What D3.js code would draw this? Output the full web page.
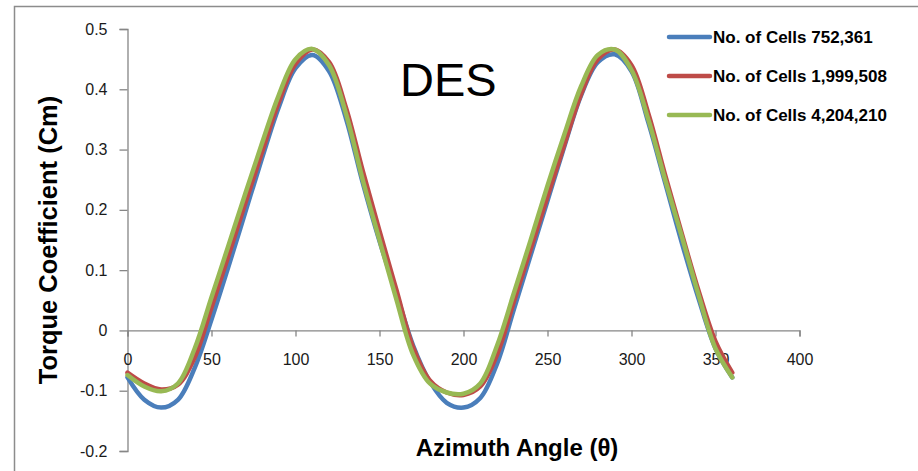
<!DOCTYPE html>
<html>
<head>
<meta charset="utf-8">
<script src="https://cdn.jsdelivr.net/npm/d3@7"></script>
<style>
    body { margin: 0; background: #fff; }
    svg { display: block; font-family: "Liberation Sans", Arial, sans-serif; }
    .tick-label { font-size: 16px; fill: #1a1a1a; }
    .axis-title { font-weight: bold; fill: #000; }
    .legend-label { font-size: 17px; font-weight: bold; fill: #000; }
</style>
</head>
<body>
<svg id="chart"></svg>
<script>
// Data
const angles = [0, 10, 20, 30, 40, 50, 60, 70, 80, 90, 100, 110, 120, 130, 140, 150, 160, 170, 180,
    190, 200, 210, 220, 230, 240, 250, 260, 270, 280, 290, 300, 310, 320, 330, 340, 350, 360];

const cells752k = [-0.078, -0.115, -0.128, -0.115, -0.062, 0.018, 0.105, 0.195, 0.285, 0.370, 0.435, 0.457,
    0.430, 0.352, 0.245, 0.148, 0.062, -0.025, -0.085, -0.120, -0.128, -0.112, -0.055, 0.035, 0.125,
    0.215, 0.305, 0.390, 0.445, 0.458, 0.430, 0.345, 0.245, 0.145, 0.052, -0.030, -0.078];

const cells1999k = [-0.070, -0.088, -0.098, -0.090, -0.045, 0.038, 0.123, 0.210, 0.295, 0.378, 0.442, 0.466,
    0.445, 0.370, 0.265, 0.165, 0.068, -0.028, -0.083, -0.103, -0.107, -0.093, -0.040, 0.048, 0.135,
    0.222, 0.308, 0.392, 0.450, 0.466, 0.440, 0.360, 0.258, 0.160, 0.065, -0.018, -0.070];

const cells4204k = [-0.074, -0.093, -0.101, -0.088, -0.030, 0.055, 0.140, 0.226, 0.310, 0.390, 0.450, 0.467,
    0.440, 0.360, 0.250, 0.150, 0.052, -0.040, -0.088, -0.103, -0.105, -0.088, -0.025, 0.062, 0.150,
    0.240, 0.325, 0.405, 0.457, 0.466, 0.432, 0.350, 0.250, 0.155, 0.058, -0.030, -0.078];

const seriesNames = ['No. of Cells 752,361', 'No. of Cells 1,999,508', 'No. of Cells 4,204,210'];
const seriesColors = ['#4a7ebb', '#be4b48', '#98b954'];
const xTicks = [0, 50, 100, 150, 200, 250, 300, 350, 400];
const yTicks = [-0.2, -0.1, 0, 0.1, 0.2, 0.3, 0.4, 0.5];
const yTickLabels = ['-0.2', '-0.1', '0', '0.1', '0.2', '0.3', '0.4', '0.5'];

// Layout
const config = {
    width: 918,
    height: 471,
    plot: { left: 127.5, right: 799.5, top: 29, bottom: 451 },
    axisColor: '#868686',
    lineWidth: 4.5
};

const svg = d3.select('#chart')
    .attr('width', config.width)
    .attr('height', config.height);

// Chart-area border (runs off the right and bottom edges)
svg.append('rect')
    .attr('x', 14.5)
    .attr('y', 6.5)
    .attr('width', 960)
    .attr('height', 600)
    .attr('fill', 'none')
    .attr('stroke', '#8c8c8c')
    .attr('stroke-width', 1.5);

const x = d3.scaleLinear().domain([0, 400]).range([config.plot.left, config.plot.right]);
const y = d3.scaleLinear().domain([-0.2, 0.5]).range([config.plot.bottom, config.plot.top]);

// Y axis
const yAxis = svg.append('g')
    .attr('transform', `translate(${x(0)},0)`)
    .call(d3.axisLeft(y).tickValues(yTicks).tickSize(8)
        .tickFormat((d, i) => yTickLabels[i]));
yAxis.select('.domain').attr('stroke', config.axisColor).attr('stroke-width', 1.3);
yAxis.selectAll('.tick line').attr('stroke', config.axisColor).attr('stroke-width', 1.3);
yAxis.selectAll('.tick text')
    .attr('class', 'tick-label')
    .attr('x', -20)
    .attr('fill', null);
yAxis.attr('font-family', null).attr('font-size', null);

// X axis (crosses at zero)
const xAxis = svg.append('g')
    .attr('transform', `translate(0,${y(0)})`)
    .call(d3.axisBottom(x).tickValues(xTicks).tickSize(6).tickSizeOuter(6));
xAxis.select('.domain').attr('stroke', config.axisColor).attr('stroke-width', 1.3);
xAxis.selectAll('.tick line').attr('stroke', config.axisColor).attr('stroke-width', 1.3);
xAxis.selectAll('.tick text')
    .attr('class', 'tick-label')
    .attr('y', 29)
    .attr('dy', '0.36em')
    .attr('fill', null);
xAxis.attr('font-family', null).attr('font-size', null);

// Series lines
const series = [cells752k, cells1999k, cells4204k];
const line = d3.line()
    .x((d, i) => x(angles[i]))
    .y(d => y(d))
    .curve(d3.curveCatmullRom.alpha(0.5));

svg.append('g').selectAll('path')
    .data(series)
    .enter()
    .append('path')
    .attr('d', d => line(d))
    .attr('fill', 'none')
    .attr('stroke', (d, i) => seriesColors[i])
    .attr('stroke-width', config.lineWidth)
    .attr('stroke-linejoin', 'round')
    .attr('stroke-linecap', 'round');

// Legend
const legend = svg.append('g').selectAll('g')
    .data(seriesNames)
    .enter()
    .append('g')
    .attr('transform', (d, i) => `translate(669,${37 + i * 39})`);

legend.append('line')
    .attr('x1', 0).attr('x2', 41)
    .attr('stroke', (d, i) => seriesColors[i])
    .attr('stroke-width', config.lineWidth)
    .attr('stroke-linecap', 'round');

legend.append('text')
    .attr('class', 'legend-label')
    .attr('x', 44)
    .attr('y', 6)
    .text(d => d);

// Titles
svg.append('text')
    .attr('x', 400)
    .attr('y', 96)
    .attr('font-size', 47)
    .attr('fill', '#000')
    .text('DES');

svg.append('text')
    .attr('class', 'axis-title')
    .attr('x', 517)
    .attr('y', 456)
    .attr('text-anchor', 'middle')
    .attr('font-size', 24)
    .text('Azimuth Angle (θ)');

svg.append('text')
    .attr('class', 'axis-title')
    .attr('transform', 'translate(57,240) rotate(-90)')
    .attr('text-anchor', 'middle')
    .attr('font-size', 25.5)
    .text('Torque Coefficient (Cm)');
</script>
</body>
</html>
